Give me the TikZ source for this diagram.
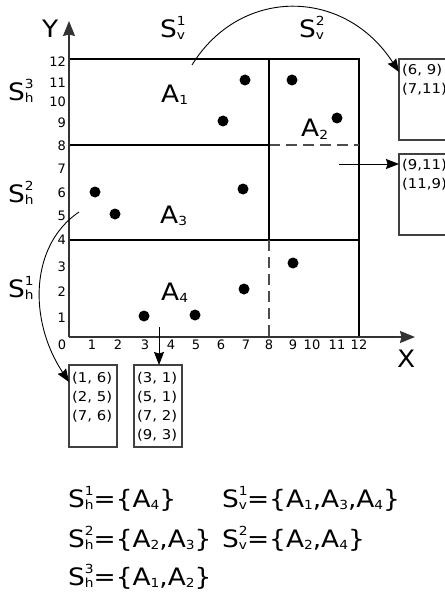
\documentclass[tikz,border=0pt]{standalone}
\usepackage{fontspec}
\setmainfont{DejaVu Sans}
\newfontfamily\widefont[FakeStretch=1.1]{DejaVu Sans}
\usetikzlibrary{arrows.meta}
\newcommand\scr{\fontsize{12.5}{12.5}\selectfont}
\newcommand\lbl{\widefont\fontsize{24}{24}\selectfont}
\newcommand\SSx[2]{S\rlap{\raisebox{12pt}{\scr #1}}\raisebox{-2pt}{\scr #2}}
\newcommand\Ax[1]{A\raisebox{-2pt}{\scr #1}}
\begin{document}
\begin{tikzpicture}[x=1pt,y=-1pt,
  big/.style={font=\lbl, inner sep=0pt, anchor=base west},
  tick/.style={font=\fontsize{13}{13}\selectfont, inner sep=0pt},
  pt/.style={circle, fill=black, minimum size=11pt, inner sep=0pt},
  box/.style={draw=black!75, line width=1.3pt, inner sep=0pt, outer sep=0pt, anchor=north west},
  btxt/.style={font=\widefont\fontsize{13.5}{13.5}\selectfont, inner sep=0pt, anchor=base west},
  arr/.style={-{Stealth[length=13pt,width=10pt,inset=1.5pt]}, line width=0.9pt},
  axis/.style={draw=black!80, line width=1.6pt, -{Stealth[length=15pt,width=12pt,inset=1.5pt]}},
  grid/.style={line width=1.1pt},
  dsh/.style={line width=1.1pt, draw=black!70, dash pattern=on 11pt off 6pt}]
\useasboundingbox (0,0) rectangle (444,596);
% region lines
\draw[grid] (69,59) -- (359,59) -- (359,337);
\draw[grid] (69,145) -- (269,145);
\draw[dsh] (269,145) -- (359,145);
\draw[grid] (69,240) -- (359,240);
\draw[grid] (269,59) -- (269,240);
\draw[dsh] (269,240) -- (269,337);
% axes
\coordinate (O) at (69,337);
\coordinate (Ytop) at (69,21);
\coordinate (Xend) at (415,337);
\draw[axis] (O) -- (Ytop);
\draw[axis] (O) -- (Xend);
\node[big] (Ylab) at (42,38) {Y};
\node[big] (Xlab) at (397,367) {X};
% y ticks
\foreach \v/\yy in {12/62,11/83,10/102,9/123,8/146,7/169,6/193,5/216,4/240,3/267,2/292,1/318}
  \node[tick, anchor=east] (yt\v) at (66,\yy) {\v};
% x ticks
\foreach \v/\xx in {0/62,1/92,2/118,3/145,4/171,5/196,6/221,7/246,8/269,9/293,10/312,11/337,12/359}
  \node[tick] (xt\v) at (\xx,345) {\v};
% dots
\node[pt] (p711) at (245,80) {};
\node[pt] (p69) at (223,121) {};
\node[pt] (p911) at (292,80) {};
\node[pt] (p119) at (337,118) {};
\node[pt] (p16) at (95,192) {};
\node[pt] (p25) at (115,214) {};
\node[pt] (p76) at (243,189) {};
\node[pt] (p93) at (293,263) {};
\node[pt] (p72) at (244,289) {};
\node[pt] (p31) at (144,316) {};
\node[pt] (p51) at (195,315) {};
% region labels
\node[big] (A1) at (161,103) {\Ax{1}};
\node[big] (A2) at (301,137) {\Ax{2}};
\node[big] (A3) at (160,223) {\Ax{3}};
\node[big] (A4) at (161,300) {\Ax{4}};
\node[big] (Sv1) at (160,38) {\SSx{1}{v}};
\node[big] (Sv2) at (299,38) {\SSx{2}{v}};
\node[big] (Sh3) at (8,101) {\SSx{3}{h}};
\node[big] (Sh2) at (8,202) {\SSx{2}{h}};
\node[big] (Sh1) at (8,297) {\SSx{1}{h}};
% boxes
\node[box, minimum width=80pt, minimum height=81pt] (box1) at (399,59) {};
\node[box, minimum width=80pt, minimum height=81pt] (box2) at (399,154) {};
\node[box, minimum width=48pt, minimum height=82pt] (box3) at (69,365) {};
\node[box, minimum width=48pt, minimum height=82pt] (box4) at (134,365) {};
\node[btxt] (t69) at (402,75) {(6, 9)};
\node[btxt] (t711) at (402,94) {(7,11)};
\node[btxt] (t911) at (402,169) {(9,11)};
\node[btxt] (t119) at (402,188) {(11,9)};
\node[btxt] (t16) at (72,382) {(1, 6)};
\node[btxt] (t25) at (72,401) {(2, 5)};
\node[btxt] (t76) at (72,420) {(7, 6)};
\node[btxt] (t31) at (137,382) {(3, 1)};
\node[btxt] (t51) at (137,401) {(5, 1)};
\node[btxt] (t72) at (137,420) {(7, 2)};
\node[btxt] (t93) at (137,439) {(9, 3)};
% connectors
\coordinate (s1) at (192,65);
\coordinate (s2) at (339,164);
\coordinate (s3) at (159,327);
\coordinate (s4) at (79,212);
\draw[arr] (s1) .. controls (240,-13) and (344,-13) .. ([yshift=-13pt]box1.north west);
\draw[arr] (s2) -- (s2 -| box2.west);
\draw[arr] (s3) -- (s3 |- box4.north);
\draw[arr] (s4) .. controls (30,245) and (28,320) .. ([yshift=-17pt]box3.north west);
% set equations
\node[big] (e1) at (68,507) {\SSx{1}{h}=\{\Ax{4}\}};
\node[big] (e2) at (68,547) {\SSx{2}{h}=\{\Ax{2},\Ax{3}\}};
\node[big] (e3) at (68,585) {\SSx{3}{h}=\{\Ax{1},\Ax{2}\}};
\node[big] (e4) at (222,507) {\SSx{1}{v}=\{\Ax{1},\Ax{3},\Ax{4}\}};
\node[big] (e5) at (222,547) {\SSx{2}{v}=\{\Ax{2},\Ax{4}\}};
\end{tikzpicture}
\end{document}
